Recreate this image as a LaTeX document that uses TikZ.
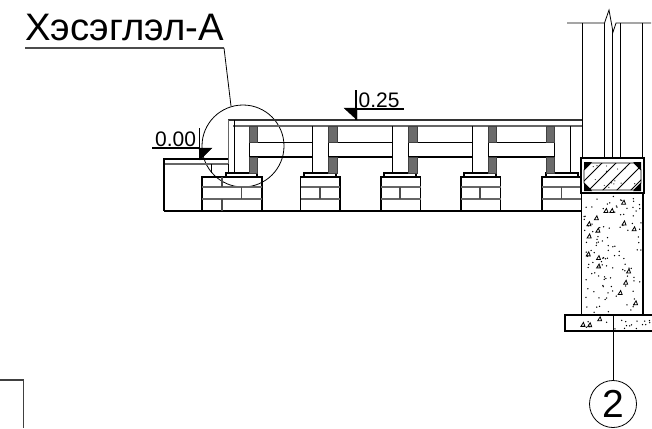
\documentclass[tikz,border=0pt]{standalone}
\usepackage{fontspec}
\setmainfont{Liberation Sans}
\begin{document}
\begin{tikzpicture}[
    x=1pt,
    y=-1pt,
    thin line/.style={line width=0.8pt},
    mid line/.style={line width=1.1pt},
    heavy line/.style={line width=1.9pt},
    cut block/.style={fill=black!58,draw=black!75,line width=0.4pt},
    level text/.style={inner sep=0pt,anchor=base west,font=\fontsize{21}{21}\selectfont},
    level mark/.style={fill=black,draw=black,line width=0.3pt},
    grain/.style={black,line width=0.8pt}]

    \useasboundingbox (0,0) rectangle (652,428);

    % title and leader
    \node[level text,font=\fontsize{38.3}{39}\selectfont] (title) at (25,41) {Хэсэглэл-А};
    \coordinate (titleL) at (25,48);
    \coordinate (titleR) at (224,48);
    \coordinate (detailTop) at (231,106);
    \draw[mid line,black!70] (titleL) -- (titleR);
    \draw[thin line] (titleR) -- (detailTop);
    \node[draw,circle,thin line,minimum size=82pt,inner sep=0pt] (detail) at (243,146) {};

    % floor boards
    \draw[heavy line,black!80] (228,120) -- (583,120);
    \draw[mid line,black!60] (233,126) -- (582,126);
    \draw[mid line,black!60] (228.5,120) -- (228.5,173);
    \draw[thin line] (234,120) -- (234,173);

    % left step
    \draw[heavy line] (163,159) -- (228,159);
    \draw[mid line,black!60] (164,164) -- (228,164);
    \draw[mid line] (164,159) -- (164,211);
    \draw[thin line] (211,164) -- (211,173);
    \draw[thin line] (228,164) -- (228,173);

    % ground line
    \draw[heavy line] (164,211) -- (581,211);

    % joists between the posts
    \foreach \xa/\xb in {249/312,328/392,408/472,488/554} {
      \draw[thin line] (\xa,142) -- (\xb,142);
      \draw[mid line] (\xa,157) -- (\xb,157);
    }

    % posts and footings
    \foreach \xa/\xb in {312/328,392/408,472/488,554/570,234/249} {
      \draw[thin line] (\xa,126) -- (\xa,173);
      \draw[thin line] (\xb,126) -- (\xb,173);
      \draw[mid line] (\xa-8,177) -- (\xa-8,173) -- (\xb+8,173) -- (\xb+8,177);
    }
    \foreach \xa in {300.5,381,461,542,202} {
      \pgfmathsetmacro\xend{\xa+(\xa==202?60:39.5)}
      \draw[mid line] (\xa,211) -- (\xa,177) -- (\xend,177) -- (\xend,211);
      \draw[heavy line,black!60] (\xa,187) -- (\xend,187);
      \draw[heavy line,black!60] (\xa,199) -- (\xend,199);
    }

    % brick joints
    \foreach \xa in {320,400,480,561.5,241.5} {
      \draw[heavy line,black!70] (\xa,187) -- (\xa,199);
    }
    \draw[heavy line,black!70] (222,177) -- (222,187);
    \draw[heavy line,black!70] (222,199) -- (222,211);

    % hatched blocks
    \foreach \xa/\xb in {249/257,328/337,408/417,488/496,546/554} {
      \draw[cut block] (\xa,126) rectangle (\xb,142);
      \draw[cut block] (\xa,157) rectangle (\xb,173);
    }

    % level 0.00
    \node[level text] (levelA) at (155,146) {0.00};
    \coordinate (levelAL) at (152,148);
    \coordinate (levelAR) at (200,148);
    \draw[mid line] (levelAL) -- (levelAR);
    \draw[mid line] (199.5,128) -- (199.5,159);
    \fill[level mark] (199,148) -- (212,148) -- (200,160) -- cycle;

    % level 0.25
    \node[level text] (levelB) at (358.5,107) {0.25};
    \coordinate (levelBL) at (356,109);
    \coordinate (levelBR) at (404,109);
    \draw[mid line] (levelBL) -- (levelBR);
    \draw[mid line] (356,90) -- (356,120);
    \fill[level mark] (357,108) -- (344,108) -- (357,120) -- cycle;

    % wall
    \draw[thin line] (567,23) -- (604.5,23) -- (609,10) -- (613,32) -- (616,23) -- (651,23);
    \foreach \xa in {582,604.5,620.5,642} {
      \draw[thin line] (\xa,23) -- (\xa,158);
    }
    \draw[thin line] (612.5,30) -- (612.5,158);

    % ring beam
    \draw[heavy line] (581,158) rectangle (644,193);
    \begin{scope}
      \clip (591,163) -- (634,163) -- (641,170) -- (641,183) -- (634,190) -- (591,190) -- (584,183) -- (584,170) -- cycle;
      \foreach \xa in {556,570,584,598,612,626,640} {
        \draw[thin line] (\xa,195) -- (\xa+40,155);
      }
    \end{scope}
    \draw[thin line] (591,163) -- (634,163) -- (641,170) -- (641,183) -- (634,190) -- (591,190) -- (584,183) -- (584,170) -- cycle;
    \fill (584,162) -- (592,162) -- (584,170) -- cycle;
    \fill (641,162) -- (633,162) -- (641,170) -- cycle;
    \fill (584,191) -- (592,191) -- (584,183) -- cycle;
    \fill (641,191) -- (633,191) -- (641,183) -- cycle;

    % concrete foundation
    \draw[heavy line] (581.5,193) -- (581.5,315);
    \draw[heavy line] (643,193) -- (643,315);
    \draw[heavy line] (652,315) -- (565,315) -- (565,331) -- (652,331);
    \pgfmathsetseed{2718}
    \foreach \i in {1,...,115} {
      \fill[black] (584+rnd*57,196+rnd*117) circle (0.75);
    }
    \foreach \i in {1,...,16} {
      \draw[grain,shift={(588+rnd*50,198+rnd*112)}] (-2,1.5) -- (2,1.5) -- (0.5,-2.5) -- cycle;
    }
    \foreach \i in {1,...,20} {
      \fill[black] (568+rnd*82,318+rnd*11) circle (0.75);
    }
    \foreach \i in {1,...,3} {
      \draw[grain,shift={(572+rnd*72,319+rnd*8)}] (-2,1.5) -- (2,1.5) -- (0.5,-2.5) -- cycle;
    }
    \foreach \i in {1,...,14} {
      \fill[black] (590+rnd*45,165+rnd*23) circle (0.6);
    }

    % axis bubble
    \node[draw,circle,thin line,minimum size=47pt,inner sep=0pt,font=\fontsize{39}{39}\selectfont] (axis) at (613,404) {2};
    \coordinate (axisTop) at (613,315);
    \draw[thin line] (axisTop) -- (axis.north);

    % sheet frame corner
    \draw[heavy line,black!75] (0,380) -- (23.5,380) -- (23.5,428);
  \end{tikzpicture}
\end{document}
